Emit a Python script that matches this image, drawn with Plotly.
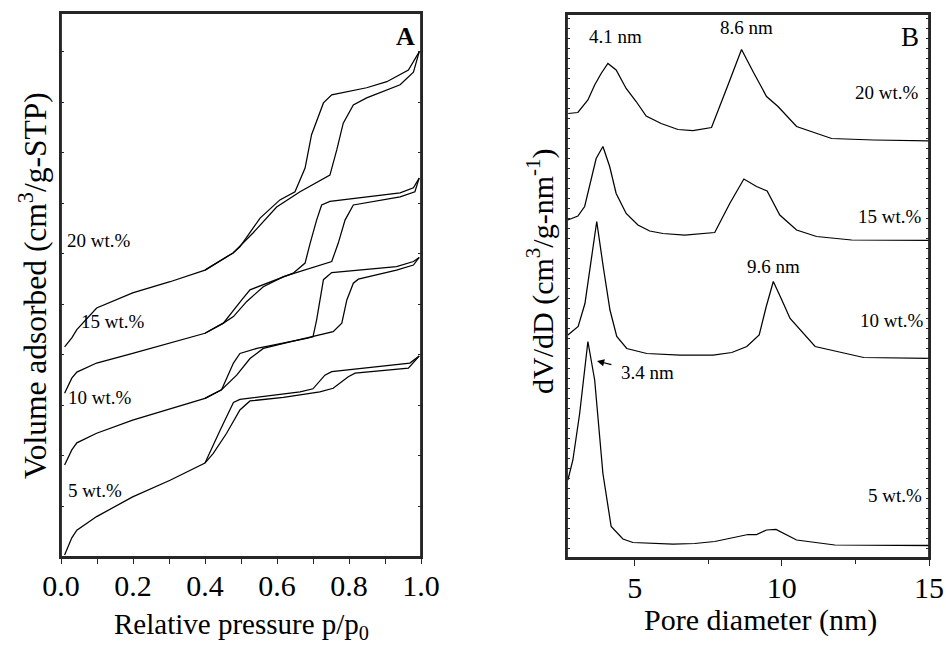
import plotly.graph_objects as go

# ---------------- Panel A : N2 isotherms (relative pressure vs volume, offset units) -------------
p_ads_5 = [0.01, 0.03, 0.044, 0.099, 0.199, 0.303, 0.40, 0.423, 0.46, 0.497, 0.525, 0.618, 0.719, 0.756, 0.798, 0.817, 0.965, 0.995]
v_ads_5 = [0.04, 0.38, 0.53, 0.80, 1.19, 1.52, 1.86, 2.05, 2.45, 2.91, 3.09, 3.16, 3.27, 3.34, 3.57, 3.64, 3.74, 3.98]
p_des_5 = [0.995, 0.969, 0.752, 0.733, 0.70, 0.664, 0.497, 0.479, 0.442, 0.40]
v_des_5 = [3.98, 3.84, 3.67, 3.60, 3.33, 3.27, 3.12, 3.06, 2.51, 1.86]

p_ads_10 = [0.01, 0.03, 0.044, 0.099, 0.199, 0.303, 0.40, 0.446, 0.488, 0.525, 0.562, 0.636, 0.70, 0.756, 0.78, 0.794, 0.812, 0.826, 0.932, 0.979, 0.995]
v_ads_10 = [1.82, 2.12, 2.26, 2.45, 2.71, 2.94, 3.14, 3.31, 3.60, 3.93, 4.13, 4.26, 4.36, 4.46, 4.63, 5.09, 5.42, 5.50, 5.68, 5.78, 5.93]
p_des_10 = [0.995, 0.979, 0.932, 0.752, 0.729, 0.71, 0.70, 0.682, 0.544, 0.497, 0.479, 0.446, 0.40]
v_des_10 = [5.93, 5.85, 5.75, 5.63, 5.49, 4.69, 4.36, 4.33, 4.13, 4.03, 3.84, 3.31, 3.14]

p_ads_15 = [0.01, 0.03, 0.044, 0.099, 0.199, 0.303, 0.40, 0.451, 0.479, 0.516, 0.562, 0.618, 0.738, 0.752, 0.77, 0.789, 0.812, 0.942, 0.983, 0.995]
v_ads_15 = [3.24, 3.54, 3.66, 3.84, 4.03, 4.23, 4.43, 4.63, 4.76, 5.06, 5.35, 5.55, 5.82, 5.85, 6.21, 6.67, 6.97, 7.13, 7.23, 7.50]
p_des_15 = [0.995, 0.979, 0.942, 0.803, 0.747, 0.724, 0.71, 0.692, 0.678, 0.645, 0.608, 0.525, 0.502, 0.451, 0.40]
v_des_15 = [7.50, 7.31, 7.21, 7.09, 7.04, 6.97, 6.67, 6.21, 5.82, 5.62, 5.52, 5.29, 5.09, 4.63, 4.43]

p_ads_20 = [0.01, 0.03, 0.044, 0.099, 0.199, 0.303, 0.40, 0.478, 0.534, 0.599, 0.664, 0.747, 0.766, 0.784, 0.812, 0.849, 0.942, 0.979, 0.995]
v_ads_20 = [4.16, 4.34, 4.50, 4.93, 5.23, 5.45, 5.68, 6.02, 6.42, 6.93, 7.23, 7.56, 8.06, 8.59, 8.95, 9.09, 9.35, 9.60, 10.0]
p_des_20 = [0.995, 0.965, 0.905, 0.849, 0.752, 0.729, 0.696, 0.678, 0.65, 0.608, 0.553, 0.497, 0.478, 0.40]
v_des_20 = [10.0, 9.64, 9.41, 9.29, 9.15, 8.99, 8.36, 7.70, 7.23, 7.07, 6.71, 6.14, 6.02, 5.68]

labels_A = ["20 wt.%", "15 wt.%", "10 wt.%", "5 wt.%"]
labels_A_x = [0.106, 0.144, 0.108, 0.094]
labels_A_y = [6.26, 4.67, 3.15, 1.31]

# ---------------- Panel B : pore size distributions (offset units) ----------------
d_20 = [2.74, 3.07, 3.41, 3.64, 3.86, 4.09, 4.37, 4.71, 5.05, 5.39, 5.90, 6.47, 6.98, 7.61, 8.17, 8.63, 9.02, 9.48, 9.87, 10.50, 11.69, 13.11, 15.0]
f_20 = [8.89, 8.91, 9.16, 9.46, 9.69, 9.89, 9.76, 9.39, 9.13, 8.84, 8.69, 8.57, 8.55, 8.61, 9.46, 10.17, 9.73, 9.23, 9.03, 8.63, 8.39, 8.36, 8.34]

d_15 = [2.73, 3.07, 3.30, 3.69, 3.92, 4.15, 4.37, 4.71, 5.11, 5.51, 5.96, 6.70, 7.72, 8.23, 8.71, 9.14, 9.50, 9.93, 10.50, 11.18, 12.37, 15.0]
f_15 = [6.76, 6.84, 7.03, 7.99, 8.23, 7.83, 7.29, 6.89, 6.66, 6.54, 6.49, 6.46, 6.51, 7.09, 7.58, 7.43, 7.34, 6.86, 6.56, 6.43, 6.36, 6.35]

d_10 = [2.73, 3.08, 3.31, 3.54, 3.71, 3.93, 4.16, 4.39, 4.73, 5.41, 6.54, 7.67, 8.30, 8.81, 9.23, 9.47, 9.71, 10.0, 10.28, 11.13, 12.78, 15.0]
f_10 = [4.46, 4.63, 5.09, 6.03, 6.73, 5.83, 4.96, 4.43, 4.19, 4.09, 4.06, 4.06, 4.11, 4.23, 4.46, 5.03, 5.53, 5.16, 4.79, 4.23, 4.01, 3.99]

d_5 = [2.73, 2.90, 3.13, 3.41, 3.64, 3.92, 4.20, 4.60, 4.94, 6.30, 7.04, 7.72, 8.85, 9.14, 9.48, 9.80, 10.50, 11.80, 15.0]
f_5 = [1.56, 1.96, 2.89, 4.33, 3.56, 1.69, 0.63, 0.38, 0.31, 0.28, 0.29, 0.33, 0.47, 0.47, 0.56, 0.57, 0.36, 0.26, 0.25]

labels_B = ["20 wt.%", "15 wt.%", "10 wt.%", "5 wt.%"]
labels_B_x = [13.56, 13.67, 13.75, 13.84]
labels_B_y = [9.32, 6.84, 4.76, 1.26]

peaks_B = ["4.1 nm", "8.6 nm", "9.6 nm"]
peaks_B_x = [4.35, 8.79, 9.72]
peaks_B_y = [10.44, 10.62, 5.84]

FONT = "Liberation Serif"
LINE = dict(color="black", width=1.25)
FRAME = "#262626"

fig = go.Figure()

for px, py in [(p_ads_5, v_ads_5), (p_des_5, v_des_5), (p_ads_10, v_ads_10), (p_des_10, v_des_10),
               (p_ads_15, v_ads_15), (p_des_15, v_des_15), (p_ads_20, v_ads_20), (p_des_20, v_des_20)]:
    fig.add_trace(go.Scatter(x=px, y=py, mode="lines", line=LINE, xaxis="x", yaxis="y",
                             showlegend=False, hoverinfo="skip"))

for dx, fy in [(d_20, f_20), (d_15, f_15), (d_10, f_10), (d_5, f_5)]:
    fig.add_trace(go.Scatter(x=dx, y=fy, mode="lines", line=LINE, xaxis="x2", yaxis="y2",
                             showlegend=False, hoverinfo="skip"))

ax_common = dict(showline=True, linecolor=FRAME, linewidth=1.8, showgrid=False, zeroline=False,
                 automargin=False, tickcolor=FRAME,
                 tickfont=dict(family=FONT, size=30, color="black"))
ov_common = dict(showline=False, showgrid=False, zeroline=False, automargin=False, tickcolor=FRAME,
                 showticklabels=False)

A_dom_x = [61 / 946, 421 / 946]
A_dom_y = [1 - 557 / 646, 1 - 13 / 646]
B_dom_x = [567 / 946, 929 / 946]
B_dom_y = [1 - 558 / 646, 1 - 14 / 646]

A_xr = [0, 1]
A_yr = [0, 10.77]
B_xr = [2.7, 15]
B_yr = [0, 10.88]

fig.update_layout(
    template="none",
    width=946, height=646,
    margin=dict(l=0, r=0, t=0, b=0, pad=0),
    paper_bgcolor="white", plot_bgcolor="white",
    xaxis=dict(**ax_common, domain=A_dom_x, range=A_xr, anchor="y", mirror=True,
               tickvals=[0, 0.2, 0.4, 0.6, 0.8, 1.0],
               tickformat=".1f", ticks="outside", ticklen=5, tickwidth=1.2, ticklabelstandoff=-4,
               minor=dict(dtick=0.1, tick0=0, ticks="outside", ticklen=5, tickwidth=1.2, tickcolor=FRAME)),
    yaxis=dict(**ax_common, domain=A_dom_y, range=A_yr, anchor="x", mirror="ticks", dtick=1, tick0=0,
               ticks="inside", ticklen=3, tickwidth=1, showticklabels=False),
    xaxis3=dict(**ov_common, overlaying="x", side="top", anchor="y", range=A_xr, dtick=0.1, tick0=0,
                ticks="inside", ticklen=2, tickwidth=1),
    xaxis2=dict(**ax_common, domain=B_dom_x, range=B_xr, anchor="y2", mirror=True, tickvals=[5, 10, 15],
                ticks="outside", ticklen=6, tickwidth=1.2, ticklabelstandoff=-4,
                minor=dict(tickvals=[7.5, 12.5], ticks="outside", ticklen=4, tickwidth=1.2, tickcolor=FRAME)),
    yaxis2=dict(**ax_common, domain=B_dom_y, range=B_yr, anchor="x2", mirror="ticks", dtick=0.2, tick0=0,
                ticks="inside", ticklen=3, tickwidth=1, showticklabels=False),
    xaxis4=dict(**ov_common, overlaying="x2", side="top", anchor="y2", range=B_xr, dtick=2.5, tick0=0,
                ticks="inside", ticklen=2, tickwidth=1),
)

# plot frames (drawn in axis-domain coordinates)
for xr_, yr_ in [("x domain", "y domain"), ("x2 domain", "y2 domain")]:
    fig.add_shape(type="rect", xref=xr_, yref=yr_, x0=0, x1=1, y0=0, y1=1,
                  line=dict(color=FRAME, width=1.8), fillcolor="rgba(0,0,0,0)", layer="above")

def txt(t, x, y, xr, yr, size, **kw):
    d = dict(text=t, x=x, y=y, xref=xr, yref=yr, showarrow=False, xanchor="center", yanchor="middle",
             font=dict(family=FONT, size=size, color="black"))
    d.update(kw)
    return d

ann = []
for t, x, y in zip(labels_A, labels_A_x, labels_A_y):
    ann.append(txt(t, x, y, "x", "y", 19))
ann.append(txt("<b>A</b>", 0.956, 10.3, "x", "y", 26))
for t, x, y in zip(labels_B, labels_B_x, labels_B_y):
    ann.append(txt(t, x, y, "x2", "y2", 19))
for t, x, y in zip(peaks_B, peaks_B_x, peaks_B_y):
    ann.append(txt(t, x, y, "x2", "y2", 19))
ann.append(txt("B", 14.36, 10.42, "x2", "y2", 27))
# 3.4 nm label with arrow
ann.append(txt("3.4 nm", 5.45, 3.72, "x2", "y2", 19))
ann.append(dict(text="", x=3.72, y=3.94, ax=4.26, ay=3.86, xref="x2", yref="y2", axref="x2", ayref="y2",
                showarrow=True, arrowhead=2, arrowsize=1.2, arrowwidth=1.2, arrowcolor="black"))
# axis titles
ann.append(txt("Relative pressure p/p<sub>0</sub>", 241 / 946, 1 - 626 / 646, "paper", "paper", 29))
ann.append(txt("Pore diameter (nm)", 760 / 946, 1 - 620 / 646, "paper", "paper", 30))
ann.append(txt("Volume adsorbed (cm<sup>3</sup>/g-STP)", 33 / 946, 1 - 286 / 646, "paper", "paper", 31.5,
               textangle=-90))
ann.append(txt("dV/dD (cm<sup>3</sup>/g-nm<sup>-1</sup>)", 540 / 946, 1 - 272 / 646, "paper", "paper", 30,
               textangle=-90))
fig.update_layout(annotations=ann)

fig.write_html("out.html", config={"displayModeBar": False},
               post_script="document.body.style.margin='0px';")
